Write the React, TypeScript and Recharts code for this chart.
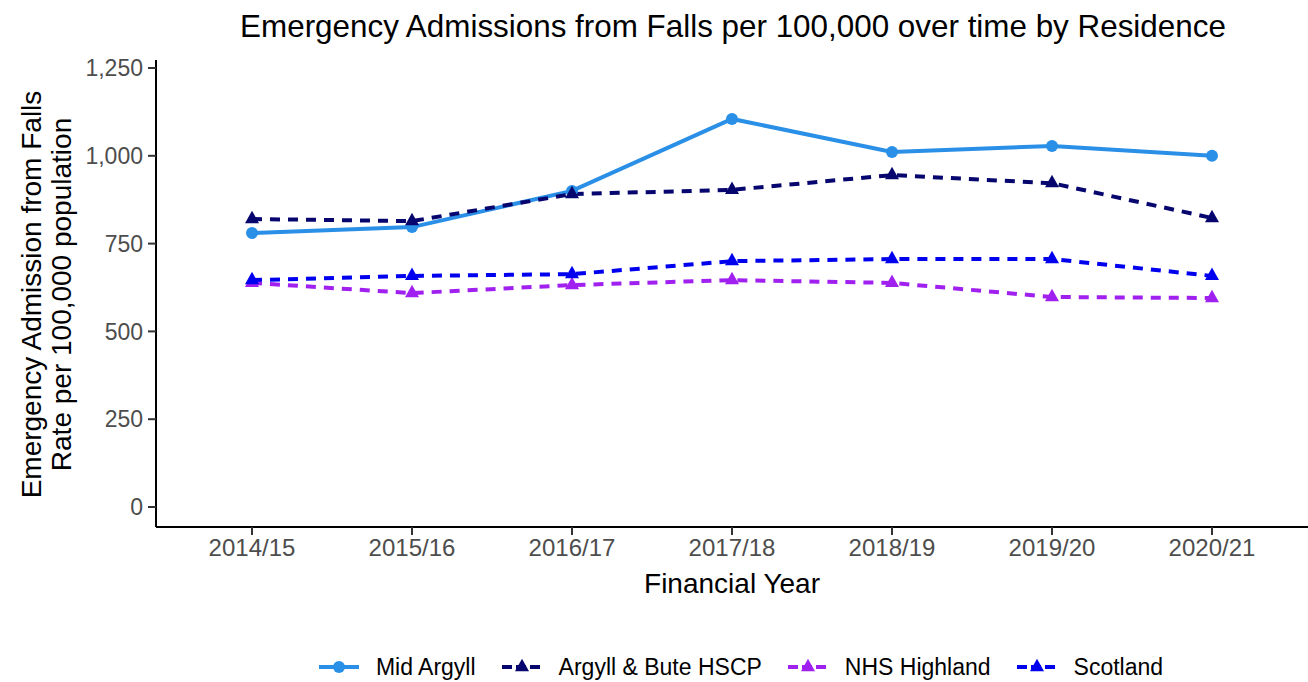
import React from 'react';
import { LineChart, Line, XAxis, YAxis } from 'recharts';

const categories = ['2014/15', '2015/16', '2016/17', '2017/18', '2018/19', '2019/20', '2020/21'];
const midArgyll = [780, 797, 900, 1105, 1011, 1028, 1000];
const argyllBute = [820, 814, 891, 903, 945, 922, 823];
const nhsHighland = [638, 609, 632, 646, 638, 598, 595];
const scotland = [646, 658, 663, 700, 706, 706, 658];
const yTicks = [0, 250, 500, 750, 1000, 1250];

const seriesNames = ['Mid Argyll', 'Argyll & Bute HSCP', 'NHS Highland', 'Scotland'];
const seriesKeys = ['mid', 'ab', 'nhs', 'scot'];
const seriesColors = ['#2a8fe6', '#06066e', '#a020f0', '#0000ee'];
const seriesDashed = [false, true, true, true];
const seriesShapes = ['circle', 'triangle', 'triangle', 'triangle'];
const seriesValues = [midArgyll, argyllBute, nhsHighland, scotland];

const data = categories.map((c, i) => {
  const row: any = { year: c };
  seriesKeys.forEach((k, j) => {
    row[k] = seriesValues[j][i];
  });
  return row;
});

const FONT = '"Liberation Sans", Arial, Helvetica, sans-serif';

function Marker({ cx, cy, shape, color }: any) {
  if (cx == null || cy == null) return null;
  if (shape === 'circle') {
    return <circle cx={cx} cy={cy} r={6} fill={color} stroke="none" />;
  }
  const w = 14;
  const h = 12.5;
  return (
    <polygon
      points={`${cx - w / 2},${cy + h / 3} ${cx + w / 2},${cy + h / 3} ${cx},${cy - (2 * h) / 3}`}
      fill={color}
      stroke="none"
    />
  );
}

const makeDot = (shape: string, color: string) => (props: any) => (
  <Marker key={`${props.index}-${color}`} cx={props.cx} cy={props.cy} shape={shape} color={color} />
);

const YLabel = (props: any) => {
  const vb = props.viewBox || {};
  const cy = (vb.y ?? 60) + (vb.height ?? 467) / 2 + 1;
  return (
    <g>
      <text
        x={31}
        y={cy}
        transform={`rotate(-90, 31, ${cy})`}
        textAnchor="middle"
        dominantBaseline="central"
        fontSize={28}
        fontFamily={FONT}
        fill="#000"
      >
        Emergency Admission from Falls
      </text>
      <text
        x={61}
        y={cy}
        transform={`rotate(-90, 61, ${cy})`}
        textAnchor="middle"
        dominantBaseline="central"
        fontSize={28}
        fontFamily={FONT}
        fill="#000"
      >
        Rate per 100,000 population
      </text>
    </g>
  );
};

const XLabel = (props: any) => {
  const vb = props.viewBox || {};
  const x = (vb.x ?? 156) + (vb.width ?? 1152) / 2;
  const y = (vb.y ?? 527) + 56;
  return (
    <text x={x} y={y} textAnchor="middle" dominantBaseline="central" fontSize={28} fontFamily={FONT} fill="#000">
      Financial Year
    </text>
  );
};

function LegendIcon({ color, dashed, shape }: any) {
  return (
    <svg width={40} height={20} style={{ display: 'block' }}>
      <line
        x1={0}
        y1={10}
        x2={40}
        y2={10}
        stroke={color}
        strokeWidth={4}
        strokeDasharray={dashed ? '10 4' : undefined}
      />
      <Marker cx={20} cy={10} shape={shape} color={color} />
    </svg>
  );
}

export default function App() {
  return (
    <div
      style={{
        position: 'absolute',
        left: 0,
        top: 0,
        width: 1308,
        height: 682,
        background: '#fff',
        fontFamily: FONT,
      }}
    >
      <div
        style={{
          position: 'absolute',
          left: 0,
          width: 1466,
          top: 8,
          textAlign: 'center',
          fontSize: 31.4,
          lineHeight: '38px',
          color: '#000',
          whiteSpace: 'nowrap',
        }}
      >
        Emergency Admissions from Falls per 100,000 over time by Residence
      </div>
      <LineChart
        width={1308}
        height={682}
        data={data}
        margin={{ top: 60, right: 0, left: 0, bottom: 0 }}
        style={{ fontFamily: FONT }}
      >
        <XAxis
          dataKey="year"
          scale="point"
          padding={{ left: 96, right: 96 }}
          height={155}
          tickSize={8}
          tickMargin={4}
          axisLine={{ stroke: '#000', strokeWidth: 2 }}
          tickLine={{ stroke: '#333', strokeWidth: 2 }}
          tick={{ fill: '#4d4d4d', fontSize: 24, fontFamily: FONT }}
          interval={0}
          label={<XLabel />}
        />
        <YAxis
          domain={[0, 1250]}
          ticks={yTicks}
          padding={{ top: 8, bottom: 20 }}
          width={156}
          tickSize={8}
          tickMargin={5}
          axisLine={{ stroke: '#000', strokeWidth: 2 }}
          tickLine={{ stroke: '#333', strokeWidth: 2 }}
          tick={{ fill: '#4d4d4d', fontSize: 23, fontFamily: FONT }}
          tickFormatter={(v: number) => v.toLocaleString('en-US')}
          label={<YLabel />}
          allowDataOverflow
        />
        {seriesKeys.map((k, j) => (
          <Line
            key={k}
            type="linear"
            dataKey={k}
            name={seriesNames[j]}
            stroke={seriesColors[j]}
            strokeWidth={4}
            strokeDasharray={seriesDashed[j] ? '10 8' : undefined}
            dot={makeDot(seriesShapes[j], seriesColors[j])}
            activeDot={false}
            isAnimationActive={false}
          />
        ))}
      </LineChart>
      <div
        style={{
          position: 'absolute',
          left: 0,
          top: 654,
          width: 1482,
          display: 'flex',
          justifyContent: 'center',
          alignItems: 'center',
          fontSize: 23,
          lineHeight: '26px',
          color: '#000',
          whiteSpace: 'nowrap',
        }}
      >
        {seriesNames.map((n, j) => (
          <div key={n} style={{ display: 'flex', alignItems: 'center', marginRight: j < 3 ? 26 : 0 }}>
            <LegendIcon color={seriesColors[j]} dashed={seriesDashed[j]} shape={seriesShapes[j]} />
            <span style={{ marginLeft: 17 }}>{n}</span>
          </div>
        ))}
      </div>
    </div>
  );
}
